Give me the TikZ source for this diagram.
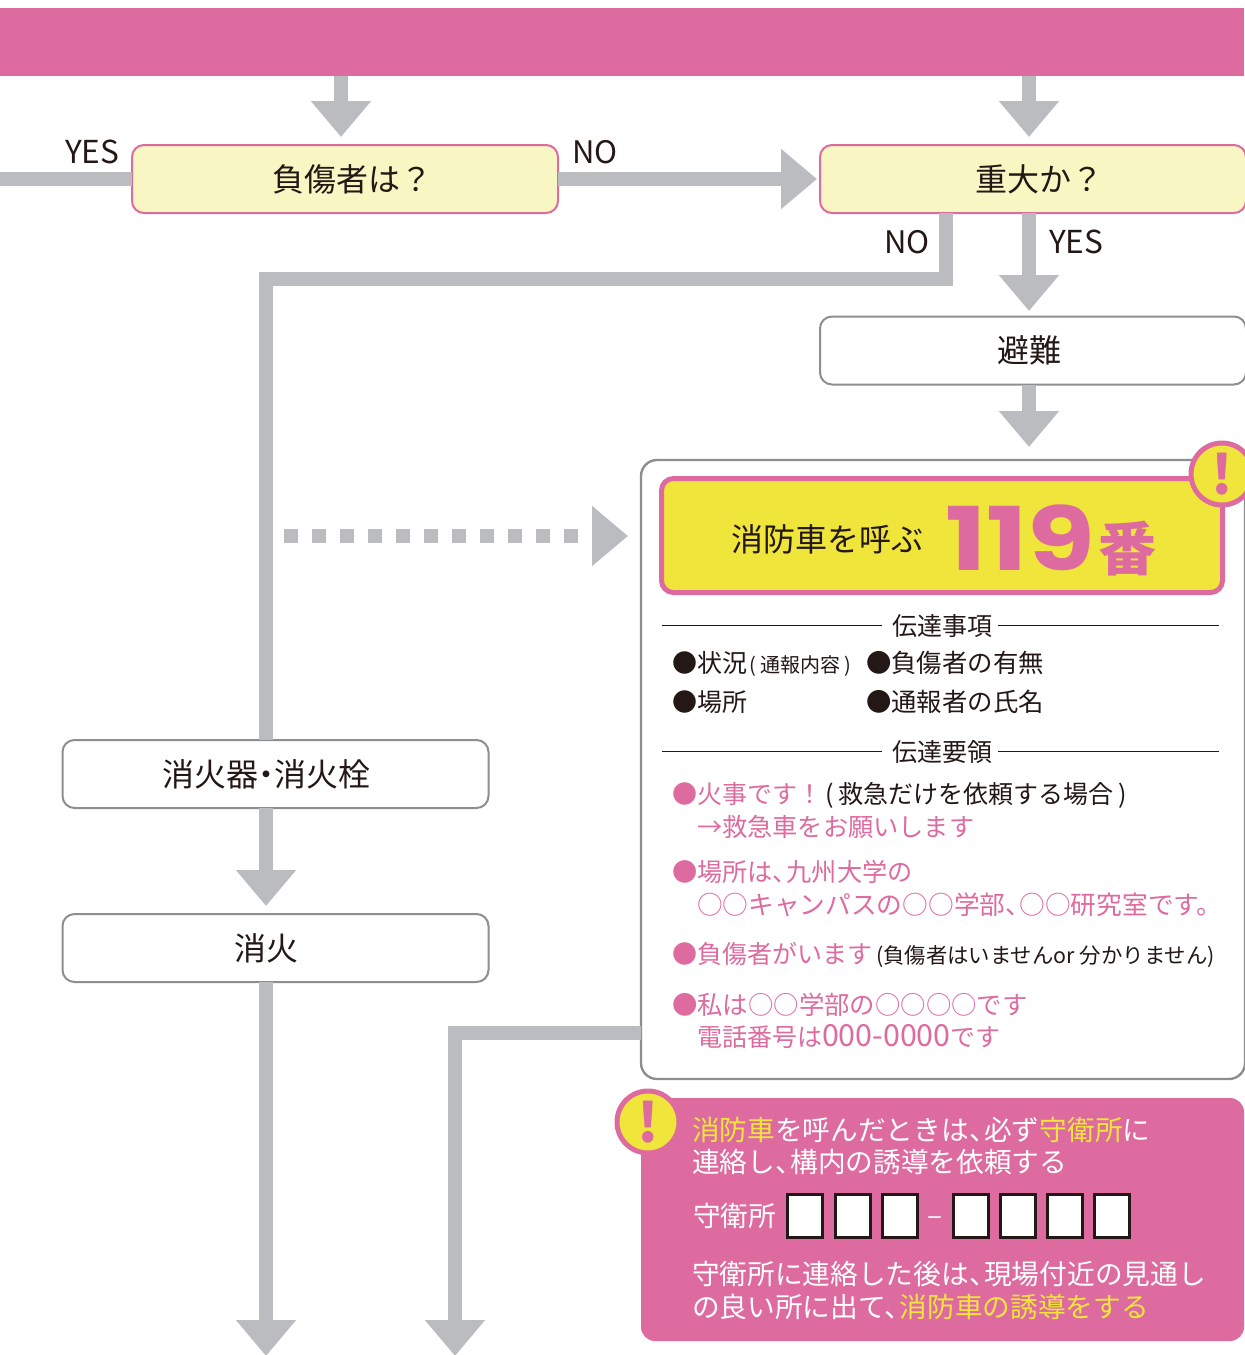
\documentclass[tikz,border=0pt]{standalone}
\usepackage{fontspec}
\setmainfont{Noto Sans CJK JP}
\newfontfamily\numfont[FakeStretch=1.25]{Poppins}
\usetikzlibrary{arrows.meta}
\definecolor{barpink}{HTML}{DE6B9F}
\definecolor{flowgray}{HTML}{BBBCC0}
\definecolor{edgegray}{HTML}{8D8E90}
\definecolor{palecream}{HTML}{F8F6C2}
\definecolor{callyellow}{HTML}{F0E53B}
\definecolor{ink}{HTML}{231815}
\tikzset{
  flow/.style={draw=flowgray,line width=7pt,-{Triangle[length=18pt,width=29pt]}},
  flowplain/.style={draw=flowgray,line width=7pt},
  lbl/.style={inner sep=0,outer sep=0,anchor=west,text=ink,text height=#1*0.91pt,text depth=#1*0.09pt,font=\fontsize{#1}{#1}\selectfont},
  askbox/.style={draw=barpink,fill=palecream,line width=1pt,rounded corners=6pt,outer sep=0,inner sep=0,text=ink,minimum width=213pt,minimum height=34pt,font=\fontsize{16}{16}\selectfont},
  actbox/.style={askbox,draw=edgegray,fill=white},
  warn/.style={circle,draw=barpink,fill=callyellow,line width=2.5pt,minimum size=31pt,inner sep=0,text=barpink,font=\fontsize{27}{27}\selectfont\bfseries},
  digitbox/.style={draw=ink,fill=white,line width=1.5pt,inner sep=0,minimum width=17.5pt,minimum height=21.5pt},
}
\newcommand{\tn}{、\hspace{-0.45em}}
\newcommand{\ye}[1]{\textcolor{callyellow}{#1}}
\newcommand{\lp}{\hspace{.12em}(\hspace{.2em}}
\newcommand{\rp}{\hspace{.2em})}
\begin{document}
\begin{tikzpicture}[x=0.5pt,y=-0.5pt]
\useasboundingbox (0,0) rectangle (1244,1355);
\node[fill=barpink,inner sep=0,outer sep=0,minimum width=622pt,minimum height=34pt] (band) at (622,42) {};
\node[askbox] (injured) at (345,179) {\hspace*{7pt}負傷者は？};
\node[askbox] (serious) at (1033,179) {\hspace*{6pt}重大か？};
\node[actbox] (evacuate) at (1033,350.5) {避難\hspace*{4pt}};
\node[actbox] (hydrant) at (275.5,774) {消火器\hspace{-.25em}・\hspace{-.25em}消火栓\hspace*{9.5pt}};
\node[actbox] (putout) at (275.5,948) {消火\hspace*{9.5pt}};
\node[draw=edgegray,fill=white,line width=1.2pt,rounded corners=8pt,inner sep=0,outer sep=0,minimum width=302pt,minimum height=309.5pt] (panel) at (943,769.5) {};
\node[draw=barpink,fill=callyellow,line width=2.5pt,rounded corners=6pt,inner sep=0,outer sep=0,minimum width=280.5pt,minimum height=57pt] (call) at (942,535.5) {};
\node[fill=barpink,rounded corners=7pt,inner sep=0,outer sep=0,minimum width=301.5pt,minimum height=121.5pt] (notice) at (942.5,1219.5) {};
\node[warn] (warnA) at (1222,474) {!};
\node[warn] (warnB) at (648,1122) {!};
\coordinate (arrL) at (341,137);
\coordinate (arrR) at (1029,137);
\coordinate (yesEnd) at (0,179);
\coordinate (noHead) at (817,179);
\coordinate (noTurn) at (946,279);
\coordinate (yesHead) at (1029,311);
\coordinate (evacHead) at (1029,447);
\coordinate (dotStart) at (284,536);
\coordinate (dotHead) at (628,536);
\coordinate (putoutHead) at (266,906);
\coordinate (leftEnd) at (266,1356);
\coordinate (rightTurn) at (455,1033);
\coordinate (rightEnd) at (455,1356);
\draw[flow] (band.south -| arrL) -- (arrL);
\draw[flow] (band.south -| arrR) -- (arrR);
\draw[flowplain] (injured.west) -- (yesEnd);
\draw[flow] (injured.east) -- (noHead);
\draw[flowplain] (serious.south -| noTurn) -- (noTurn) -- (noTurn -| leftEnd) -- (hydrant.north -| leftEnd);
\draw[flow] (serious.south -| yesHead) -- (yesHead);
\draw[flow] (evacuate.south -| evacHead) -- (evacHead);
\draw[flow,dash pattern=on 7pt off 7pt] (dotStart) -- (dotHead);
\draw[flow] (hydrant.south -| putoutHead) -- (putoutHead);
\draw[flow] (putout.south -| leftEnd) -- (leftEnd);
\draw[flow] (panel.west |- rightTurn) -- (rightTurn) -- (rightEnd);
\node[lbl=15.8] (yesA) at (65,151) {YES};
\node[lbl=15.5] (noA) at (572,151) {NO};
\node[lbl=15.5] (noB) at (884,241) {NO};
\node[lbl=15.8] (yesB) at (1049,241) {YES};
\node[lbl=16] (callText) at (731,538) {消防車を呼ぶ};
\node[lbl=44,anchor=base west,text=barpink,font=\fontsize{44}{44}\selectfont\numfont\bfseries] (num) at (945,570) {119};
\node[lbl=29,anchor=base west,text=barpink,font=\fontsize{29}{29}\selectfont\bfseries] (ban) at (1098,570) {番};
\node[lbl=12.5] (itemsHead) at (892,625) {伝達事項};
\node[lbl=12.5] (howHead) at (892,751) {伝達要領};
\coordinate (itemsL) at (662,625);
\coordinate (itemsR) at (1219,625);
\coordinate (howL) at (662,751);
\coordinate (howR) at (1219,751);
\draw[ink,line width=0.5pt] (itemsL) -- (itemsHead.west -| 882,625);
\draw[ink,line width=0.5pt] (itemsHead.east -| 998,625) -- (itemsR);
\draw[ink,line width=0.5pt] (howL) -- (howHead.west -| 882,751);
\draw[ink,line width=0.5pt] (howHead.east -| 998,751) -- (howR);
\node[lbl=12.5] (itemA) at (672,662) {●状況{\fontsize{10}{10}\selectfont\lp 通報内容\rp}};
\node[lbl=12.7] (itemB) at (866,662) {●負傷者の有無};
\node[lbl=12.5] (itemC) at (672,701) {●場所};
\node[lbl=12.7] (itemD) at (866,701) {●通報者の氏名};
\foreach \n/\x/\y/\s/\t in {
  a/672/793/12.5/{●火事です！\textcolor{ink}{\lp 救急だけを依頼する場合\rp}},
  b/697/826/12.6/{→救急車をお願いします},
  c/672/871/12.6/{●場所は\tn 九州大学の},
  d/697/904/12.85/{○○キャンパスの○○学部\tn ○○研究室です。},
  e/672/953/12.5/{●負傷者がいます\textcolor{ink}{\hspace{2pt}\fontsize{10.7}{10.7}\selectfont(負傷者はいませんor 分かりません)}},
  f/672/1004/12.7/{●私は○○学部の○○○○です},
  g/697/1036/12.5/{電話番号は{\fontsize{15.2}{15.2}\selectfont 000-0000}です}} {
  \node[lbl=\s,text=barpink] (say\n) at (\x,\y) {\t};
}
\foreach \n/\y/\t in {
  a/1129/{\ye{消防車}を呼んだときは\tn 必ず\ye{守衛所}に},
  b/1161/{連絡し\tn 構内の誘導を依頼する},
  c/1273/{守衛所に連絡した後は\tn 現場付近の見通し},
  d/1306/{の良い所に出て\tn \ye{消防車の誘導をする}}} {
  \node[lbl=13.85,text=white] (note\n) at (692,\y) {\t};
}
\node[lbl=13.85,text=white] (guard) at (693,1215) {守衛所};
\foreach \x in {805,852.5,899.5,971,1018,1065,1112} {
  \node[digitbox] (digit\x) at (\x,1216) {};
}
\node[lbl=14,text=white] (dash) at (927,1214) {–};
\end{tikzpicture}
\end{document}
